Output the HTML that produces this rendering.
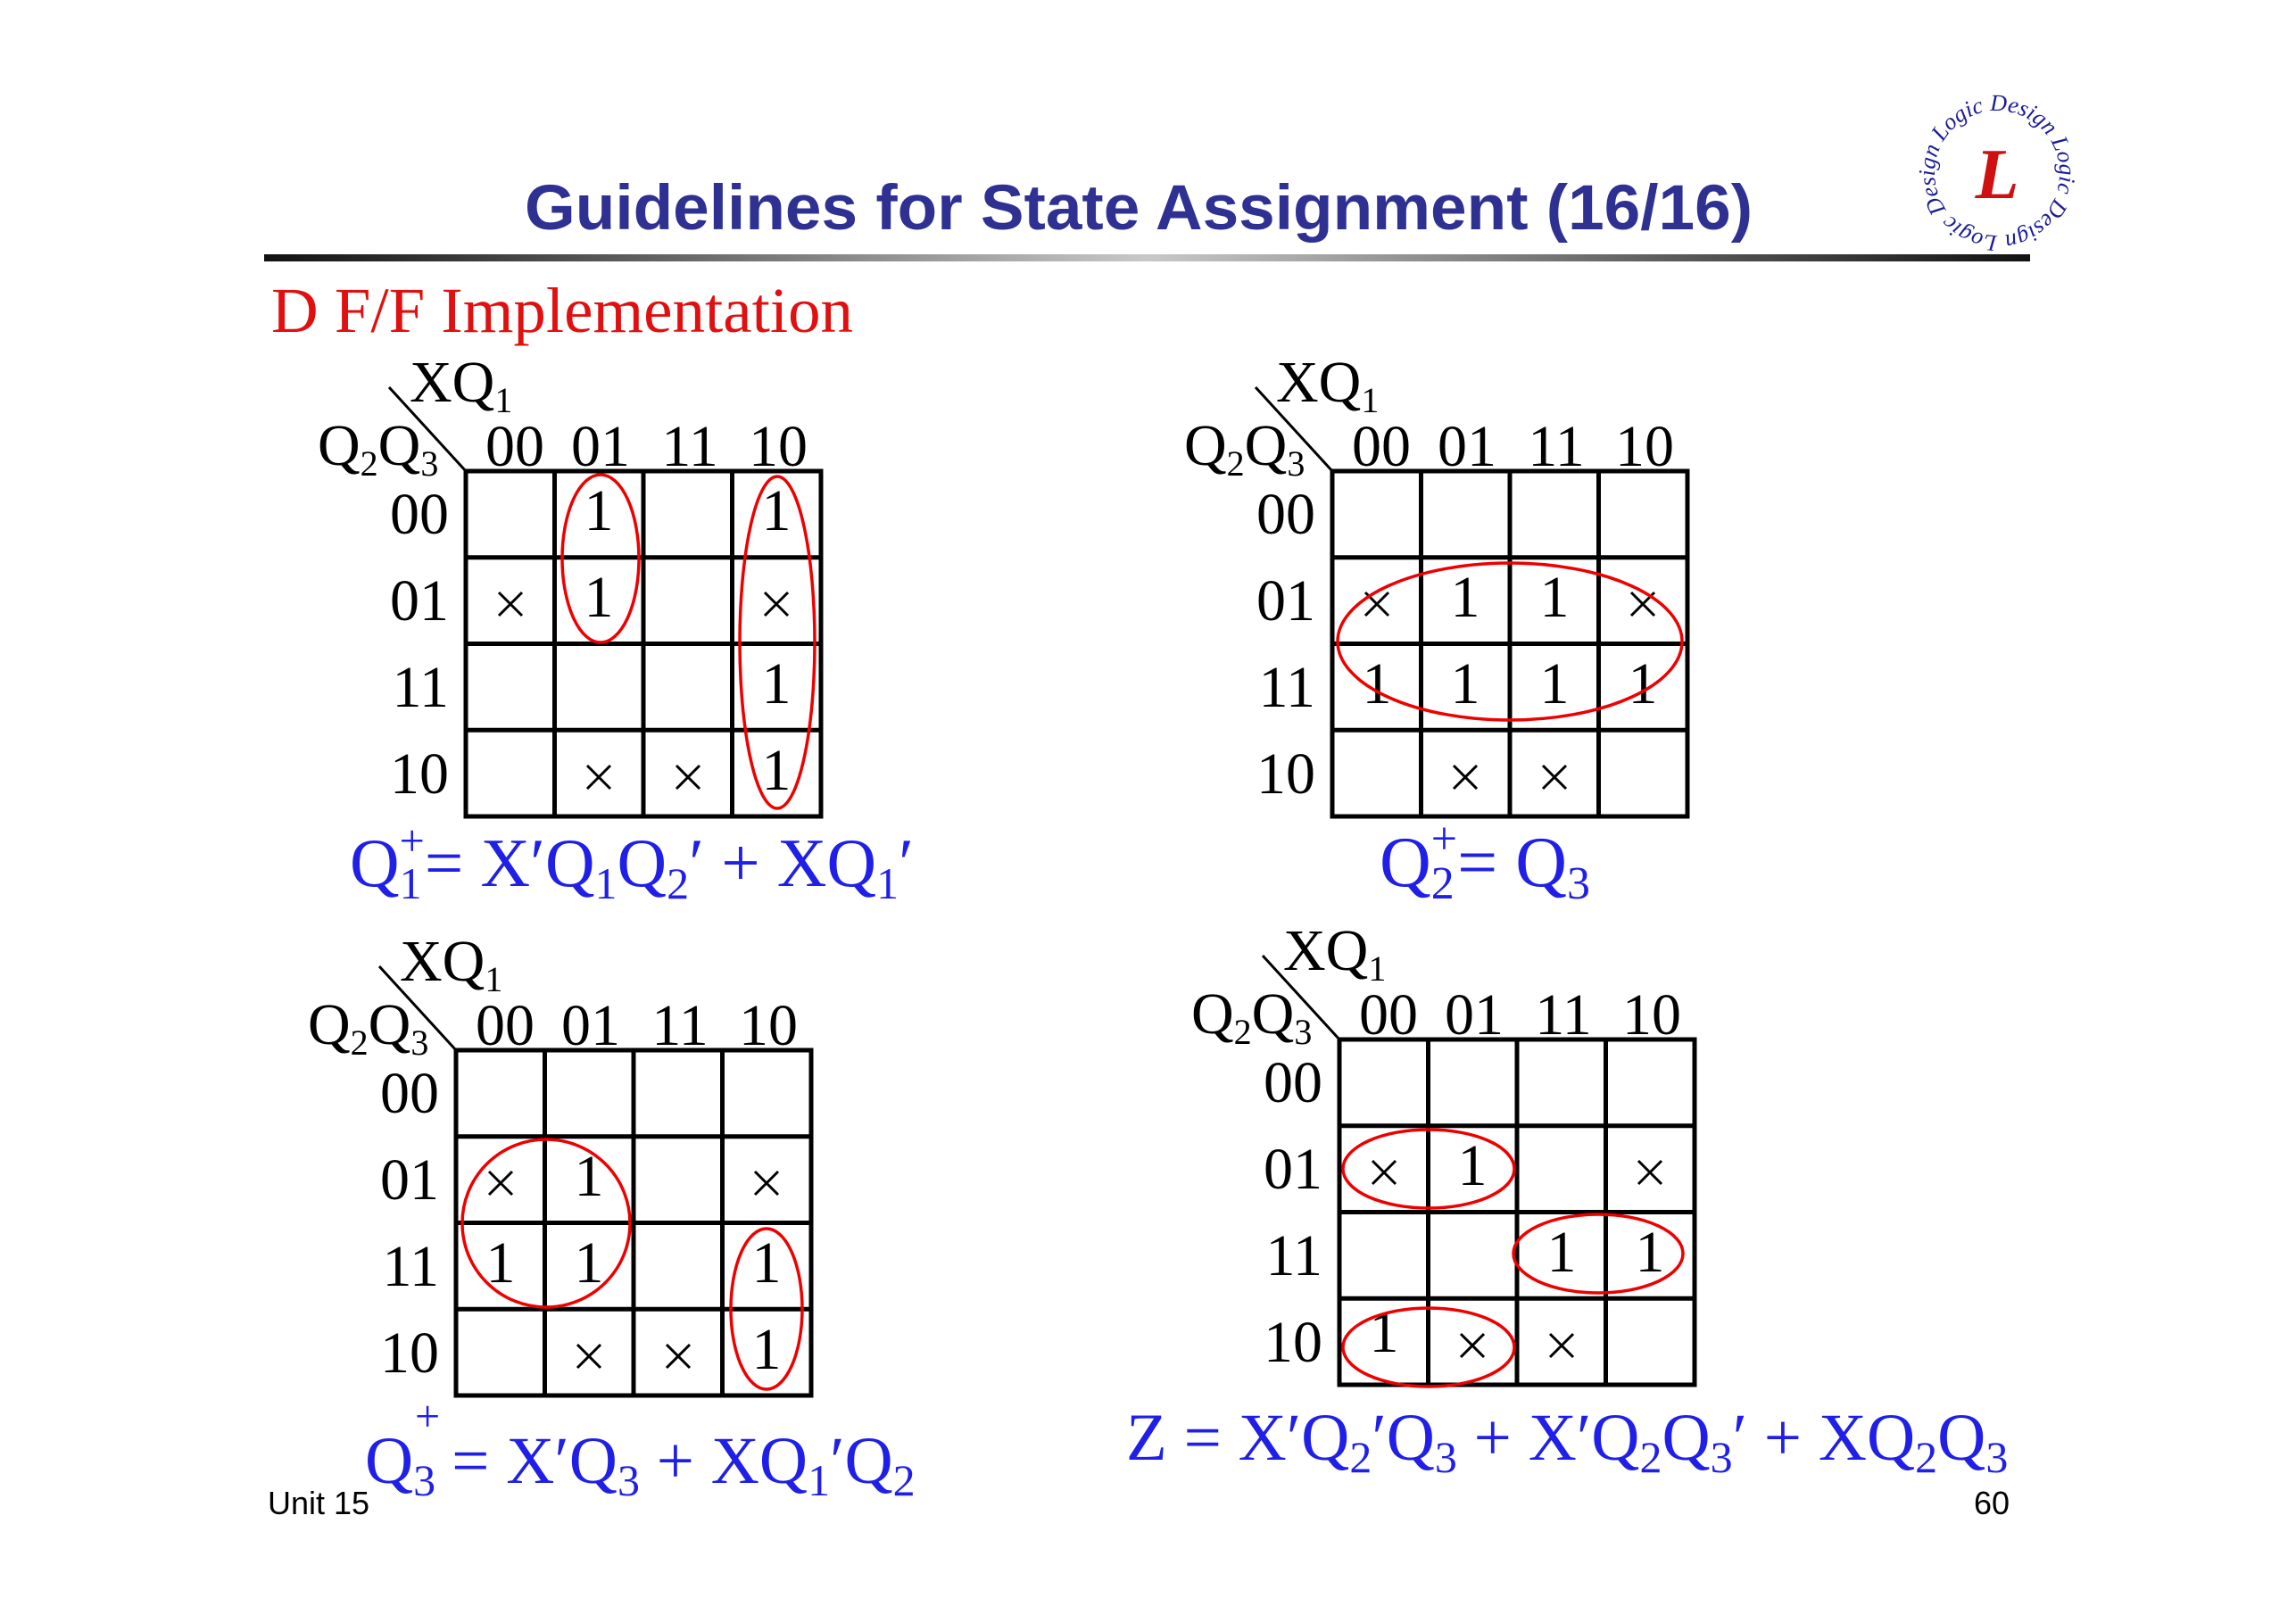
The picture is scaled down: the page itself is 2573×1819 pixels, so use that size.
<!DOCTYPE html>
<html><head><meta charset="utf-8"><style>
html,body{margin:0;padding:0;background:#fff;}
svg{display:block;}
.m{font-family:"Liberation Serif",serif;font-size:66px;fill:#000;}
.s{font-size:40px;}
.eq{font-family:"Liberation Serif",serif;font-size:80px;fill:#1f1fe8;}
</style></head><body>
<svg width="2573" height="1819" viewBox="0 0 2573 1819" xmlns="http://www.w3.org/2000/svg">
<defs>
<linearGradient id="lg" x1="0" x2="1" y1="0" y2="0">
<stop offset="0" stop-color="#111"/><stop offset="0.5" stop-color="#c8c8c8"/><stop offset="1" stop-color="#111"/>
</linearGradient>
<path id="x" d="M-13,-13 L13,13 M13,-13 L-13,13" stroke="#000" stroke-width="3"/>
<g id="grid" stroke="#000" stroke-width="5" fill="none">
<rect x="0" y="0" width="398" height="387"/>
<line x1="99.5" y1="0" x2="99.5" y2="387"/><line x1="199" y1="0" x2="199" y2="387"/><line x1="298.5" y1="0" x2="298.5" y2="387"/>
<line x1="0" y1="96.75" x2="398" y2="96.75"/><line x1="0" y1="193.5" x2="398" y2="193.5"/><line x1="0" y1="290.25" x2="398" y2="290.25"/>
<line x1="-86" y1="-94" x2="0" y2="0" stroke-width="3"/>
</g>
<g id="lab">
<text x="-63" y="-78">XQ<tspan class="s" dy="12">1</tspan></text>
<text x="-166" y="-7">Q<tspan class="s" dy="12">2</tspan><tspan dy="-12">Q</tspan><tspan class="s" dy="12">3</tspan></text>
<g text-anchor="middle"><text x="55" y="-6">00</text><text x="151" y="-6">01</text><text x="251" y="-6">11</text><text x="350" y="-6">10</text></g>
<g text-anchor="end"><text x="-19" y="70">00</text><text x="-19" y="167">01</text><text x="-19" y="264">11</text><text x="-19" y="361">10</text></g>
</g>
<path id="circ" d="M2238,264 A70,70 0 1,1 2238.1,264"/>
</defs>

<!-- Title -->
<text x="588" y="257" textLength="1376" lengthAdjust="spacingAndGlyphs" font-family="Liberation Sans, sans-serif" font-weight="bold" font-size="71" fill="#2e3192">Guidelines for State Assignment (16/16)</text>
<rect x="296" y="285" width="1979" height="8" fill="url(#lg)"/>
<text x="304" y="372" textLength="652" lengthAdjust="spacingAndGlyphs" font-family="Liberation Serif, serif" font-size="72" fill="#e01010">D F/F Implementation</text>

<!-- Logo -->
<text font-family="Liberation Serif, serif" font-style="italic" font-size="26" fill="#1a1a9a"><textPath href="#circ">Logic Design Logic Design Logic Design</textPath></text>
<text x="2238" y="222" text-anchor="middle" font-family="Liberation Serif, serif" font-style="italic" font-weight="bold" font-size="80" fill="#d01010">L</text>

<!-- Map 1 -->
<g transform="translate(522,528)" class="m">
<use href="#grid"/><use href="#lab"/>
<g text-anchor="middle"><text x="149" y="66">1</text><text x="348" y="66">1</text><text x="149" y="163">1</text><text x="348" y="260">1</text><text x="348" y="357">1</text></g>
<use href="#x" x="50" y="149"/><use href="#x" x="348" y="149"/><use href="#x" x="149" y="343"/><use href="#x" x="249" y="343"/>
<g fill="none" stroke="#e00" stroke-width="3.5"><ellipse cx="151" cy="98" rx="43" ry="94"/><ellipse cx="349" cy="192" rx="42" ry="186"/></g>
</g>

<!-- Map 2 -->
<g transform="translate(1493,528)" class="m">
<use href="#grid"/><use href="#lab"/>
<g text-anchor="middle"><text x="149" y="163">1</text><text x="249" y="163">1</text><text x="50" y="260">1</text><text x="149" y="260">1</text><text x="249" y="260">1</text><text x="348" y="260">1</text></g>
<use href="#x" x="50" y="149"/><use href="#x" x="348" y="149"/><use href="#x" x="149" y="343"/><use href="#x" x="249" y="343"/>
<ellipse cx="199" cy="191" rx="193" ry="88" fill="none" stroke="#e00" stroke-width="3.5"/>
</g>

<!-- Map 3 -->
<g transform="translate(511,1177)" class="m">
<use href="#grid"/><use href="#lab"/>
<g text-anchor="middle"><text x="149" y="163">1</text><text x="50" y="260">1</text><text x="149" y="260">1</text><text x="348" y="260">1</text><text x="348" y="357">1</text></g>
<use href="#x" x="50" y="149"/><use href="#x" x="348" y="149"/><use href="#x" x="149" y="343"/><use href="#x" x="249" y="343"/>
<g fill="none" stroke="#e00" stroke-width="3.5"><ellipse cx="101" cy="194" rx="94" ry="94"/><ellipse cx="348" cy="290" rx="40" ry="90"/></g>
</g>

<!-- Map 4 -->
<g transform="translate(1501,1165)" class="m">
<use href="#grid"/><use href="#lab"/>
<g text-anchor="middle"><text x="149" y="163">1</text><text x="249" y="260">1</text><text x="348" y="260">1</text><text x="50" y="350">1</text></g>
<use href="#x" x="50" y="149"/><use href="#x" x="348" y="149"/><use href="#x" x="149" y="343"/><use href="#x" x="249" y="343"/>
<g fill="none" stroke="#e00" stroke-width="3.5"><ellipse cx="100" cy="145" rx="96" ry="44"/><ellipse cx="290" cy="240" rx="95" ry="44"/><ellipse cx="100" cy="345" rx="96" ry="44"/></g>
</g>

<!-- Equations -->
<text class="eq" x="392" y="993" style="font-size:77px">Q<tspan font-size="50" dy="14">1</tspan><tspan font-size="50" dx="-25" dy="-48">+</tspan><tspan dy="34">= X′Q</tspan><tspan font-size="50" dy="14">1</tspan><tspan dy="-14">Q</tspan><tspan font-size="50" dy="14">2</tspan><tspan dy="-14">′ + XQ</tspan><tspan font-size="50" dy="14">1</tspan><tspan dy="-14">′</tspan></text>
<text class="eq" x="1546" y="993">Q<tspan font-size="52" dy="14">2</tspan><tspan font-size="52" dx="-26" dy="-50">+</tspan><tspan dy="36">= Q</tspan><tspan font-size="52" dy="14">3</tspan></text>
<text class="eq" x="409" y="1662" style="font-size:75px">Q<tspan font-size="50" dy="14">3</tspan><tspan dx="18" dy="-14">= X′Q</tspan><tspan font-size="50" dy="14">3</tspan><tspan dy="-14"> + XQ</tspan><tspan font-size="50" dy="14">1</tspan><tspan dy="-14">′Q</tspan><tspan font-size="50" dy="14">2</tspan></text>
<text class="eq" x="465" y="1604" style="font-size:50px">+</text>
<text class="eq" x="1262" y="1636" style="font-size:75px">Z = X′Q<tspan font-size="50" dy="14">2</tspan><tspan dy="-14">′Q</tspan><tspan font-size="50" dy="14">3</tspan><tspan dy="-14"> + X′Q</tspan><tspan font-size="50" dy="14">2</tspan><tspan dy="-14">Q</tspan><tspan font-size="50" dy="14">3</tspan><tspan dy="-14">′ + XQ</tspan><tspan font-size="50" dy="14">2</tspan><tspan dy="-14">Q</tspan><tspan font-size="50" dy="14">3</tspan></text>

<!-- Footer -->
<text x="300" y="1697" font-family="Liberation Sans, sans-serif" font-size="36" fill="#000">Unit 15</text>
<text x="2252" y="1697" text-anchor="end" font-family="Liberation Sans, sans-serif" font-size="36" fill="#000">60</text>
</svg>
</body></html>
